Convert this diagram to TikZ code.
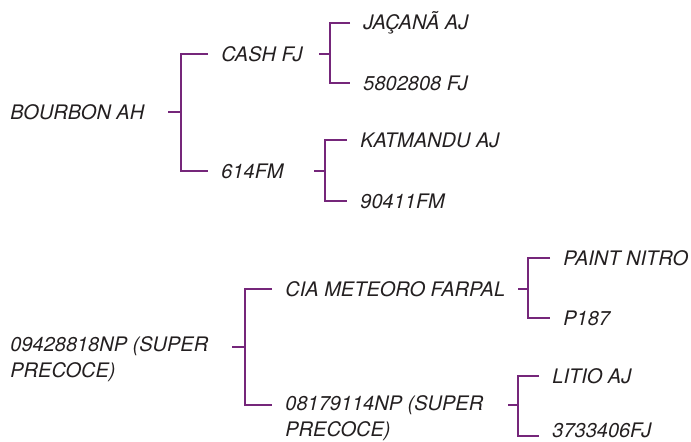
\documentclass[tikz,border=0pt]{standalone}
\usepackage{fontspec}
\setmainfont{TeX Gyre Heros}
\usepackage{tikz}
\usetikzlibrary{positioning,calc}
\definecolor{plum}{RGB}{117,38,122}
\definecolor{ink}{RGB}{35,31,32}
\tikzset{%
  link/.style={draw=plum, line width=1.3pt}%
}

\begin{document}
\begin{tikzpicture}[
    x=0.5pt, y=-0.5pt,
    font=\fontsize{10}{13}\selectfont\itshape,
    root/.style={
        anchor=west,
        align=left,
        inner xsep=0pt,
        inner ysep=0pt,
        text=ink
    },
    entry/.style={
        anchor=west,
        align=left,
        inner xsep=6.5pt,
        inner ysep=0pt,
        text=ink
    }
]
\useasboundingbox (0,0) rectangle (691,441);

% First pedigree
\node[root] (bourbon) at (10,112) {BOURBON AH};

\node[entry] (cash) at (208,54) {CASH FJ};
\node[entry] (m614) at (208,171) {614FM};

\node[entry] (jacana) at (350,23) {JAÇANÃ AJ};
\node[entry] (m5802) at (350,83) {5802808 FJ};

\node[entry] (katmandu) at (347,140) {KATMANDU AJ};
\node[entry] (m90411) at (347,201) {90411FM};

\coordinate (sBourbon) at (168,112);
\coordinate (jBourbon) at (181,112);
\coordinate (sCash) at (319,54);
\coordinate (jCash) at (330,54);
\coordinate (s614) at (314,171);
\coordinate (j614) at (325,171);

\draw[link] (sBourbon) -- (jBourbon);
\draw[link] (cash.west) -| (jBourbon) |- (m614.west);
\draw[link] (sCash) -- (jCash);
\draw[link] (jacana.west) -| (jCash) |- (m5802.west);
\draw[link] (s614) -- (j614);
\draw[link] (katmandu.west) -| (j614) |- (m90411.west);

% Second pedigree
\node[root] (super) at (10,359) {09428818NP (SUPER\\PRECOCE)};

\node[entry] (cia) at (272,289) {CIA METEORO FARPAL};
\node[entry] (n0817) at (272,418) {08179114NP (SUPER\\PRECOCE)};

\node[entry] (paint) at (550,258) {PAINT NITRO};
\node[entry] (p187) at (550,318) {P187};

\node[entry] (litio) at (539,376) {LITIO AJ};
\node[entry] (n3733) at (539,430) {3733406FJ};

\coordinate (sSuper) at (232,347);
\coordinate (jSuper) at (245,347);
\coordinate (sCia) at (518,289);
\coordinate (jCia) at (528,289);
\coordinate (s0817) at (508,405);
\coordinate (j0817) at (518,405);

\draw[link] (sSuper) -- (jSuper);
\draw[link] (cia.west) -| (jSuper) |- ([yshift=6.5pt]n0817.west);
\draw[link] (sCia) -- (jCia);
\draw[link] (paint.west) -| (jCia) |- (p187.west);
\draw[link] (s0817) -- (j0817);
\draw[link] (litio.west) -| (j0817) |- ([yshift=-3pt]n3733.west);

\end{tikzpicture}
\end{document}
